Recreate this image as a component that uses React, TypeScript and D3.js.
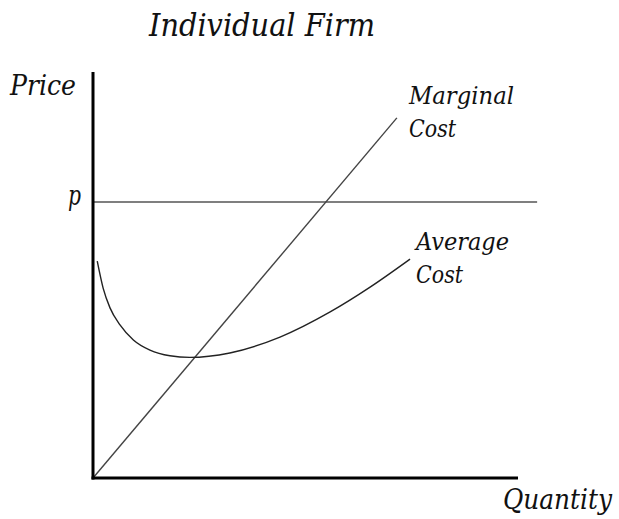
import React from "react";
import * as d3 from "d3";

const title = "Individual Firm";
const yLabel = "Price";
const xLabel = "Quantity";
const priceLabel = "p";
const priceLevel = 68;
const priceLineEnd = 104.5;
const mcLabel = ["Marginal", "Cost"];
const acLabel = ["Average", "Cost"];
const mcQ = [0, 71.5];
const mcP = [0, 88.7];
const acQ = [1.0, 2.4, 4.0, 6.35, 9.5, 13.4, 18.1, 22.8, 32.2, 44, 55.8, 65.2, 74.6];
const acP = [53.4, 46.7, 41.9, 37.7, 34.0, 31.5, 30.1, 29.7, 30.8, 34.7, 40.9, 47, 53.9];

const W = 619;
const H = 519;
const FONT = "'DejaVu Serif Condensed', 'DejaVu Serif', serif";

type LabelProps = { x: number; y: number; size: number; len: number; children: string };
function Label({ x, y, size, len, children }: LabelProps) {
  return (
    <text
      x={x}
      y={y}
      fontSize={size}
      textLength={len}
      lengthAdjust="spacingAndGlyphs"
      style={{ fontFamily: FONT, fontStyle: "italic", fontStretch: "condensed", fill: "#111" }}
    >
      {children}
    </text>
  );
}

export default function App() {
  const x = d3.scaleLinear().domain([0, 100]).range([93, 518]);
  const y = d3.scaleLinear().domain([0, 100]).range([478, 72]);
  const line = d3
    .line<[number, number]>()
    .x((d) => x(d[0]))
    .y((d) => y(d[1]));
  const curve = d3
    .line<[number, number]>()
    .x((d) => x(d[0]))
    .y((d) => y(d[1]))
    .curve(d3.curveMonotoneX);
  const mcPts: [number, number][] = mcQ.map((q, i) => [q, mcP[i]]);
  const acPts: [number, number][] = acQ.map((q, i) => [q, acP[i]]);
  return (
    <svg
      width={W}
      height={H}
      style={{ position: "absolute", left: 0, top: 0, background: "#fff" }}
    >
      <Label x={149} y={36} size={31} len={226}>{title}</Label>
      <Label x={10} y={95} size={27} len={66}>{yLabel}</Label>
      <Label x={68} y={205} size={27} len={13}>{priceLabel}</Label>
      <Label x={503} y={509} size={27} len={109}>{xLabel}</Label>
      <Label x={409} y={104} size={25} len={105}>{mcLabel[0]}</Label>
      <Label x={409} y={137} size={25} len={47}>{mcLabel[1]}</Label>
      <Label x={416} y={250} size={25} len={93}>{acLabel[0]}</Label>
      <Label x={416} y={283} size={25} len={47}>{acLabel[1]}</Label>
      <path
        d={line([[0, priceLevel], [priceLineEnd, priceLevel]]) || ""}
        stroke="#555"
        strokeWidth={1.5}
        fill="none"
      />
      <path d={line(mcPts) || ""} stroke="#444" strokeWidth={1.4} fill="none" />
      <path d={curve(acPts) || ""} stroke="#222" strokeWidth={1.4} fill="none" />
      <line x1={x(0)} x2={x(0)} y1={y(100)} y2={y(0) + 1.5} stroke="#000" strokeWidth={3} />
      <line x1={x(0) - 1.5} x2={x(100)} y1={y(0)} y2={y(0)} stroke="#000" strokeWidth={3} />
    </svg>
  );
}
